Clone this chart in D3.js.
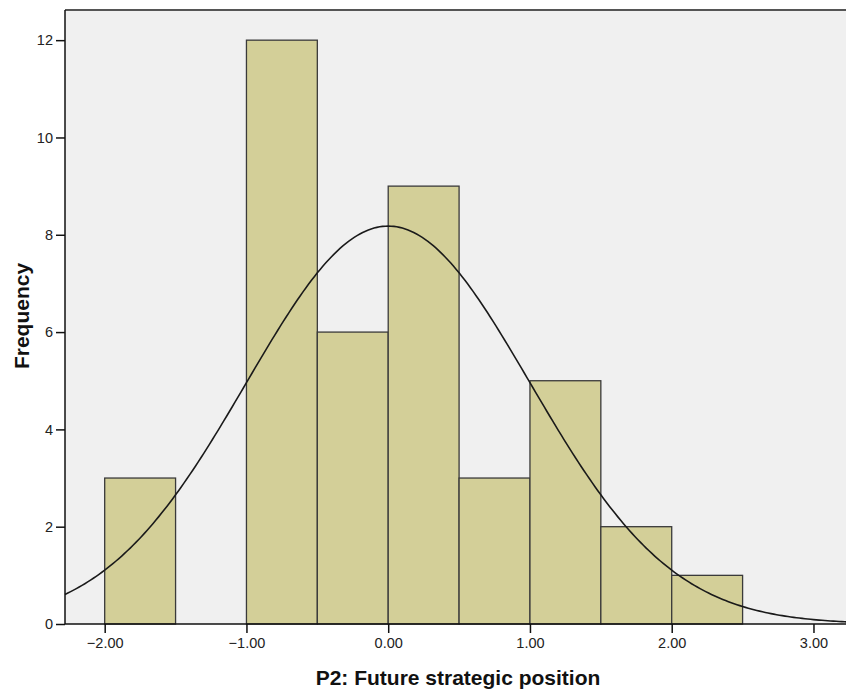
<!DOCTYPE html>
<html>
<head>
<meta charset="utf-8">
<script src="https://cdn.jsdelivr.net/npm/d3@7"></script>
<style>
  body { margin: 0; background: #fff; }
  svg { display: block; font-family: Arial, "Liberation Sans", sans-serif; }
</style>
</head>
<body>
<svg id="chart" width="846" height="695"></svg>
<script>
// Histogram bins (lower edge, upper edge) and their counts.
const binStarts = [-2.0, -1.5, -1.0, -0.5, 0.0, 0.5, 1.0, 1.5, 2.0];
const binWidth = 0.5;
const counts = [3, 0, 12, 6, 9, 3, 5, 2, 1];
const xTicks = [-2, -1, 0, 1, 2, 3];
const yTicks = [0, 2, 4, 6, 8, 10, 12];
// Normal curve fitted by the stats package.
const curveMean = 0.0;
const curveSd = 1.0;

let width = 846, height = 695;
let margin = { top: 10, bottom: 71, left: 65 };

let svg = d3.select('#chart');

let x = d3.scaleLinear()
    .domain([-2.28, 3.3])
    .range([margin.left, 856]);

let y = d3.scaleLinear()
    .domain([0, 12.62])
    .range([height - margin.bottom, margin.top]);

// Plot background.
svg.append('rect')
    .attr('x', x.range()[0])
    .attr('y', y.range()[1])
    .attr('width', x.range()[1] - x.range()[0])
    .attr('height', y.range()[0] - y.range()[1])
    .attr('fill', '#f0f0f0');

// Bars.
let bins = binStarts.map((b, i) => ({ x0: b, x1: b + binWidth, n: counts[i] }))
    .filter(d => d.n > 0);

svg.append('g')
    .selectAll('rect')
    .data(bins)
  .enter().append('rect')
    .attr('x', d => x(d.x0))
    .attr('y', d => y(d.n))
    .attr('width', d => x(d.x1) - x(d.x0))
    .attr('height', d => y(0) - y(d.n))
    .attr('fill', '#d3cf98')
    .attr('stroke', '#3a3a3a')
    .attr('stroke-width', 1.3);

// Normal curve.
let n = d3.sum(counts);
let scale = n * binWidth / (curveSd * Math.sqrt(2 * Math.PI));
let curvePts = d3.range(x.domain()[0], x.domain()[1] + 0.001, 0.02)
    .map(v => [v, scale * Math.exp(-((v - curveMean) ** 2) / (2 * curveSd * curveSd))]);

svg.append('path')
    .datum(curvePts)
    .attr('fill', 'none')
    .attr('stroke', '#1a1a1a')
    .attr('stroke-width', 1.6)
    .attr('d', d3.line().x(d => x(d[0])).y(d => y(d[1])));

// Top border.
svg.append('line')
    .attr('x1', x.range()[0]).attr('x2', width)
    .attr('y1', y.range()[1]).attr('y2', y.range()[1])
    .attr('stroke', '#555').attr('stroke-width', 2);

// Axes.
let xAxis = svg.append('g')
    .attr('transform', `translate(0,${y(0)})`)
    .call(d3.axisBottom(x).tickValues(xTicks).tickSize(9).tickSizeOuter(0).tickPadding(5).tickFormat(d3.format('.2f')));

let yAxis = svg.append('g')
    .attr('transform', `translate(${x.range()[0]},0)`)
    .call(d3.axisLeft(y).tickValues(yTicks).tickSize(9).tickSizeOuter(0).tickPadding(3));

[xAxis, yAxis].forEach(a => {
    a.attr('font-size', 14.5).attr('font-family', null);
    a.select('.domain').attr('stroke', '#111').attr('stroke-width', 1.5);
    a.selectAll('.tick line').attr('stroke', '#111').attr('stroke-width', 1.5);
    a.selectAll('.tick text').attr('fill', '#222');
});
xAxis.select('.domain').attr('d', `M${x.range()[0]},0H${width}`);
yAxis.select('.domain').attr('d', `M0,${y.range()[0]}V${y.range()[1]}`);

// Axis titles.
svg.append('text')
    .attr('x', 458)
    .attr('y', 685)
    .attr('text-anchor', 'middle')
    .style('font-size', '21px')
    .style('font-weight', 'bold')
    .attr('fill', '#111')
    .text('P2: Future strategic position');

svg.append('text')
    .attr('transform', 'translate(29,316) rotate(-90)')
    .attr('text-anchor', 'middle')
    .style('font-size', '21px')
    .style('font-weight', 'bold')
    .attr('fill', '#111')
    .text('Frequency');
</script>
</body>
</html>
